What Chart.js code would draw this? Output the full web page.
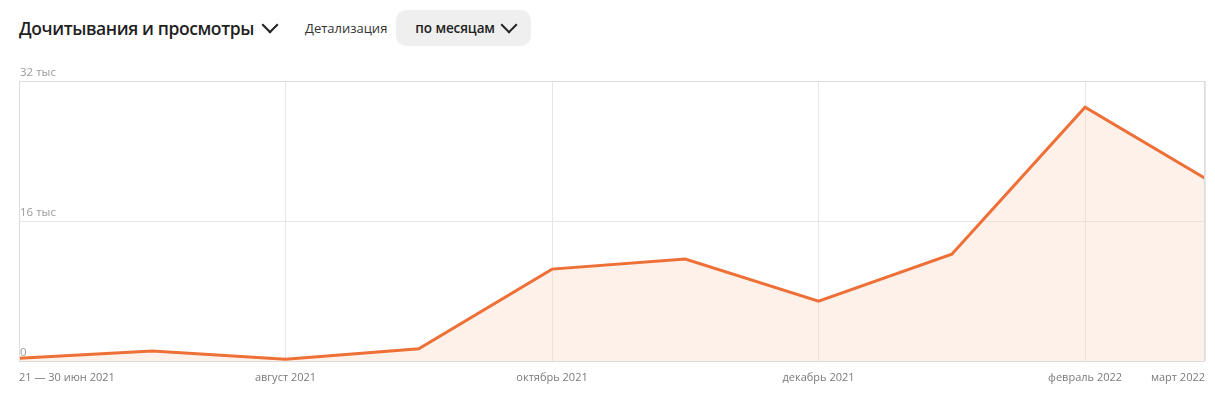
<!DOCTYPE html>
<html lang="ru">
<head>
<meta charset="utf-8">
<script src="https://cdn.jsdelivr.net/npm/chart.js@4/dist/chart.umd.min.js"></script>
<style>
  html, body { margin: 0; padding: 0; background: #fff; }
  body { width: 1215px; height: 399px; position: relative; overflow: hidden; font-family: "Open Sans", "Noto Sans", sans-serif; }
  .head { position: absolute; left: 19px; top: 10px; height: 36px; display: flex; align-items: center; color: #1f1f1f; }
  .title { font-size: 17.5px; font-weight: 600; letter-spacing: -0.4px; }
  .chev { display: inline-block; width: 10px; height: 10px; border-right: 2px solid #222; border-bottom: 2px solid #222; transform: rotate(45deg); margin: -7px 0 0 10px; }
  .lbl { font-size: 13px; color: #333; margin-left: 29px; }
  .btn { margin-left: 9px; background: #efefef; border-radius: 10px; height: 36px; padding: 0 16px 0 19px; display: flex; align-items: center; font-size: 13.5px; font-weight: 600; color: #222; letter-spacing: -0.1px; }
  .btn .chev { margin-left: 8px; }
  .wrap { position: absolute; left: 0; top: 60px; width: 1215px; height: 339px; }
</style>
</head>
<body>
<div class="head">
  <span class="title">Дочитывания и просмотры</span><span class="chev"></span>
  <span class="lbl">Детализация</span>
  <span class="btn">по месяцам<span class="chev"></span></span>
</div>
<div class="wrap"><canvas id="c"></canvas></div>
<script>
// months on the x axis (last one is a partial step)
const months = ['21 — 30 июн 2021', 'июль 2021', 'август 2021', 'сентябрь 2021', 'октябрь 2021',
  'ноябрь 2021', 'декабрь 2021', 'январь 2022', 'февраль 2022', 'март 2022'];
const monthPos = [0, 1, 2, 3, 4, 5, 6, 7, 8, 8.9];
const labelledMonths = [0, 2, 4, 6, 8, 9];
const reads = [300, 1150, 200, 1400, 10500, 11650, 6850, 12200, 29000, 20900];
const yTicks = [0, 16000, 32000];

const frame = {
  id: 'frame',
  afterDraw(chart) {
    const { ctx, chartArea: a } = chart;
    ctx.save();
    ctx.strokeStyle = '#dcdcdc';
    ctx.lineWidth = 1;
    ctx.strokeRect(a.left + 0.5, a.top + 0.5, a.right - a.left - 1, a.bottom - a.top);
    ctx.restore();
  }
};

new Chart(document.getElementById('c'), {
  type: 'line',
  data: {
    datasets: [{
      data: reads.map((v, i) => ({ x: monthPos[i], y: v })),
      borderColor: '#ee7036',
      backgroundColor: 'rgba(250, 215, 195, 0.35)',
      borderWidth: 3,
      fill: 'origin',
      pointRadius: 0,
      tension: 0
    }]
  },
  plugins: [frame],
  options: {
    responsive: true,
    maintainAspectRatio: false,
    animation: false,
    layout: { padding: { left: 19, right: 8, top: 21, bottom: 0 } },
    plugins: { legend: { display: false }, tooltip: { enabled: false } },
    scales: {
      x: {
        type: 'linear',
        min: monthPos[0],
        max: monthPos[monthPos.length - 1],
        afterBuildTicks: s => { s.ticks = labelledMonths.map(i => ({ value: monthPos[i] })); },
        afterFit: s => { s.height = 38; },
        grid: { color: '#e6e6e6', drawTicks: false },
        border: { display: false },
        ticks: {
          align: 'inner',
          padding: 10,
          maxRotation: 0,
          autoSkip: false,
          color: '#7a7a7a',
          font: { family: 'Open Sans', size: 11 },
          callback: v => months[monthPos.indexOf(v)]
        }
      },
      y: {
        min: 0,
        max: 32000,
        afterBuildTicks: s => { s.ticks = yTicks.map(v => ({ value: v })); },
        afterFit: s => { s.width = 0; },
        grid: { color: '#e6e6e6', drawTicks: false },
        border: { display: false },
        ticks: {
          mirror: true,
          padding: 1,
          labelOffset: -8,
          color: '#9a9a9a',
          font: { family: 'Open Sans', size: 11.5 },
          callback: v => v === 0 ? '0' : (v / 1000) + ' тыс'
        }
      }
    }
  }
});
</script>
</body>
</html>
